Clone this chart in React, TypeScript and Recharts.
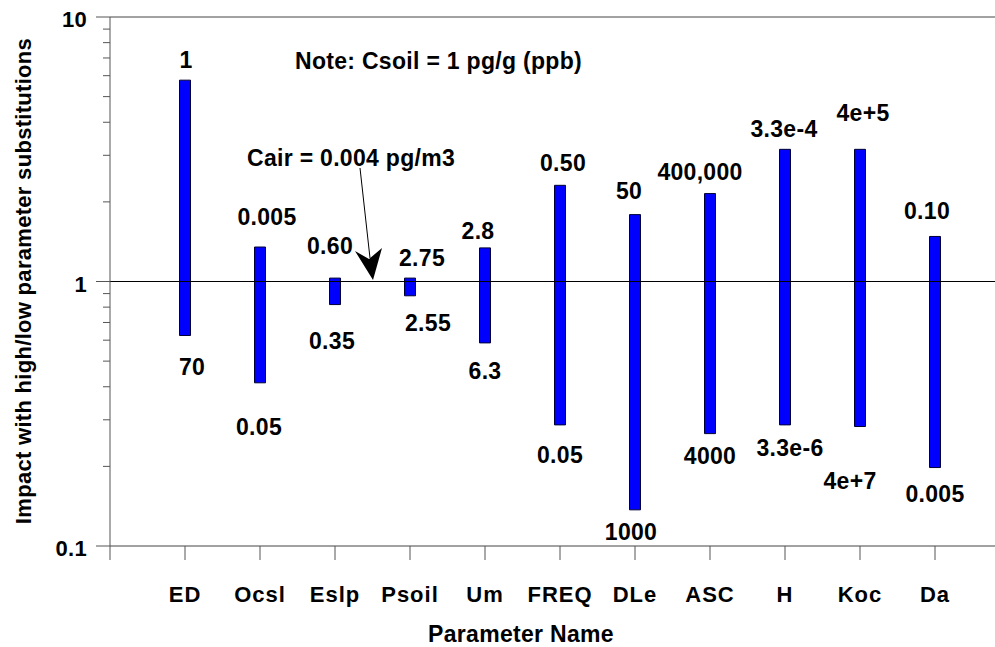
import { ComposedChart, Bar, XAxis, YAxis, ReferenceLine, LabelList } from 'recharts';

const params = ['ED', 'Ocsl', 'Eslp', 'Psoil', 'Um', 'FREQ', 'DLe', 'ASC', 'H', 'Koc', 'Da'];
const highImpact = [5.77, 1.35, 1.03, 1.03, 1.34, 2.31, 1.79, 2.15, 3.16, 3.16, 1.48];
const lowImpact = [0.625, 0.414, 0.818, 0.883, 0.586, 0.287, 0.137, 0.266, 0.287, 0.283, 0.198];
const highValueText = ['1', '0.005', '0.60', '2.75', '2.8', '0.50', '50', '400,000', '3.3e-4', '4e+5', '0.10'];
const lowValueText = ['70', '0.05', '0.35', '2.55', '6.3', '0.05', '1000', '4000', '3.3e-6', '4e+7', '0.005'];
const yTicks = [0.1, 0.2, 0.3, 0.4, 0.5, 0.6, 0.7, 0.8, 0.9, 1, 2, 3, 4, 5, 6, 7, 8, 9, 10];
const yMajor = [0.1, 1, 10];
const xTicks = [0, 1, 2, 3, 4, 5, 6, 7, 8, 9, 10, 11];

// label nudges (px) relative to bar centre / bar end
const topNudge = [[1, -20], [7, -30], [-5, -32], [12, -20], [-7, -17], [3, -22], [-6, -24], [-10, -22], [-1, -20], [3, -36], [-8, -25]];
const bottomNudge = [[7, 32], [-1, 44], [-3, 36], [18, 27], [0, 28], [0, 30], [-4, 22], [0, 22], [5, 23], [-10, 54], [0, 26]];

const data = params.map((name, i) => ({
    pos: i + 1,
    name,
    range: [lowImpact[i], highImpact[i]],
}));

const FONT = '"Liberation Sans", Arial, sans-serif';
const AXIS_X = 110;
const textStyle = { fontFamily: FONT, fontWeight: 700, fontSize: 23, letterSpacing: 0.3 };

const ParamTick = (props: any) => {
    const { x, y, payload } = props;
    if (payload.value === 0) return null;
    return (
        <text x={x} y={y + 42} textAnchor="middle" fill="#000" style={{ ...textStyle, fontSize: 22, letterSpacing: 1 }}>
            {params[payload.value - 1]}
        </text>
    );
};

const LogTick = (props: any) => {
    const { y, payload } = props;
    const major = yMajor.includes(payload.value);
    return (
        <g>
            <line x1={major ? AXIS_X - 14 : AXIS_X - 7} x2={AXIS_X} y1={y} y2={y} stroke="#555" />
            {major && (
                <text x={AXIS_X - 23} y={y + 10} textAnchor="end" fill="#000" style={{ ...textStyle, fontSize: 22 }}>
                    {payload.value}
                </text>
            )}
        </g>
    );
};

const barEnds = (props: any) => {
    const vb = props.viewBox ?? props;
    const h = vb.height ?? 0;
    const top = Math.min(vb.y, vb.y + h);
    const bottom = Math.max(vb.y, vb.y + h);
    return { cx: vb.x + (vb.width ?? 0) / 2, top, bottom };
};

const HighLabel = (props: any) => {
    const { cx, top } = barEnds(props);
    const [dx, dy] = topNudge[props.index];
    return (
        <text x={cx + dx} y={top + dy + 8} textAnchor="middle" fill="#000" style={textStyle}>
            {highValueText[props.index]}
        </text>
    );
};

const LowLabel = (props: any) => {
    const { cx, bottom } = barEnds(props);
    const [dx, dy] = bottomNudge[props.index];
    return (
        <text x={cx + dx} y={bottom + dy + 8} textAnchor="middle" fill="#000" style={textStyle}>
            {lowValueText[props.index]}
        </text>
    );
};

export default function App() {
    return (
        <div style={{ position: 'absolute', left: 0, top: 0, width: 995, height: 647, background: '#fff' }}>
            <ComposedChart
                width={995}
                height={647}
                data={data}
                margin={{ top: 17, right: 0, left: 0, bottom: 0 }}
            >
                <XAxis
                    dataKey="pos"
                    type="number"
                    domain={[0, 11.8]}
                    ticks={xTicks}
                    height={101}
                    tickSize={14}
                    tickMargin={0}
                    interval={0}
                    axisLine={{ stroke: '#444' }}
                    tickLine={{ stroke: '#555' }}
                    tick={<ParamTick />}
                />
                <YAxis
                    type="number"
                    scale="log"
                    domain={[0.1, 10]}
                    allowDataOverflow
                    ticks={yTicks}
                    interval={0}
                    width={110}
                    tickSize={14}
                    tickMargin={0}
                    tickLine={false}
                    axisLine={{ stroke: '#555' }}
                    tick={<LogTick />}
                />
                <ReferenceLine y={10} stroke="#444" />
                <ReferenceLine y={1} stroke="#000" />
                <Bar dataKey="range" barSize={11} fill="#0000ff" stroke="#000033" strokeWidth={1} isAnimationActive={false}>
                    <LabelList dataKey="range" content={<HighLabel />} />
                    <LabelList dataKey="range" content={<LowLabel />} />
                </Bar>
            </ComposedChart>
            <svg width={995} height={647} style={{ position: 'absolute', left: 0, top: 0, pointerEvents: 'none' }}>
                <text x={23} y={281} transform="rotate(-90 23 281)" dy={8} textAnchor="middle" fill="#000" style={{ ...textStyle, fontSize: 22 }}>
                    Impact with high/low parameter substitutions
                </text>
                <text x={521} y={642} textAnchor="middle" fill="#000" style={textStyle}>
                    Parameter Name
                </text>
                <text x={295} y={69} fill="#000" style={textStyle}>
                    Note: Csoil = 1 pg/g (ppb)
                </text>
                <text x={247} y={166} fill="#000" style={textStyle}>
                    Cair = 0.004 pg/m3
                </text>
                <line x1={360} y1={168} x2={370} y2={258} stroke="#000" strokeWidth={1} />
                <polygon points="373,280 355,251 369,259 382,248" fill="#000" />
            </svg>
        </div>
    );
}
